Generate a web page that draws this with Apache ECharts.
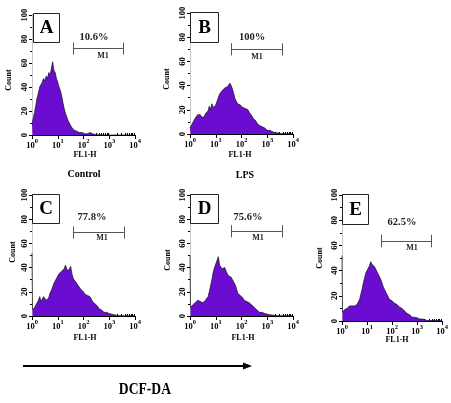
<!DOCTYPE html>
<html><head><meta charset="utf-8">
<script src="https://cdn.jsdelivr.net/npm/echarts@6/dist/echarts.min.js"></script>
<style>html,body{margin:0;padding:0;background:#fff}#c{width:451px;height:403px}</style>
</head><body><div id="c"></div>
<script>
// x positions in decades (log10 of FL1-H)
const logX = [0,0.02,
 0.05,0.10,0.15,0.20,0.25,0.30,0.35,0.40,0.45,0.50,0.55,0.60,0.65,0.70,0.75,0.80,0.85,0.90,0.95,1.00,
 1.05,1.10,1.15,1.20,1.25,1.30,1.35,1.40,1.45,1.50,1.55,1.60,1.65,1.70,1.75,1.80,1.85,1.90,1.95,2.00,
 2.05,2.10,2.15,2.20,2.25,2.30,2.35,2.40,2.45,2.50,2.55,2.60,2.65,2.70,2.75,2.80,2.85,2.90,2.95,3.00,
 3.05,3.10,3.15,3.20,3.25,3.30,3.35,3.40,3.45,3.50,3.55,3.60,3.65,3.70,3.75,3.80,3.85,3.90,3.95,4.00];

const histA = [9,10,
 14,19,25,31,35,40,42,44,47,45,49,47,52,50,55,61,54,52,47,44,
 40,37,33,27,22,18,15,12,10,8,6,5,4,4,3,3,2,3,2,2,
 1,2,1,1,2,2,1,1,0.5,0.5,0.3,0.5,0.3,0.3,0,0,0,0,0,0,
 0,0,0,0,0,0,0,0,0,0,0,0,0,0,0,0,0,0,0,0];
const histB = [5,6,
 7,9,11,13,14,16,15,16,14,15,14,17,16,19,23,20,25,22,21,24,
 27,30,33,34,36,37,38,37,39,40,42,40,37,33,29,27,25,26,24,24,
 22,21,21,20,20,18,17,15,13,12,11,9,9,7,6,6,5,5,4,3,
 3,3,2,2,2,1,1,1,0.5,0.5,0.5,0.3,0.5,0.3,0.3,0.3,0.3,0.3,0.3,0.3];
const histC = [52,5,
 6,7,9,11,13,16,12,14,16,17,13,12,15,19,21,24,27,29,31,33,
 35,36,37,38,39,42,39,37,38,41,35,31,30,28,27,25,24,22,21,20,
 18,17,17,16,16,14,12,11,10,9,8,6,5,5,4,3,3,3,2,2,
 2,1.5,1.3,1,0.8,0.5,0.5,0.3,0.3,0.3,0.2,0.2,0.2,0.2,0.2,0.2,0.2,0.2,0.2,0.2];
const histD = [50,7,
 8,9,10,11,12,13,13,12,12,11,12,13,14,16,20,25,30,36,40,43,
 46,49,42,41,39,38,40,37,35,33,33,32,30,29,26,23,19,18,17,16,
 15,13,12,12,11,11,10,9,8,7,6,5,4,3,3,3,2,2,2,1.5,
 1.3,1,0.8,0.8,0.5,0.5,0.3,0.3,0.3,0.3,0.3,0.3,0.3,0.3,0.3,0.3,0.3,0.3,0.3,0.3];
const histE = [52,7,
 8,9,9,10,11,12,13,12,11,12,12,13,15,17,21,25,30,34,38,40,
 42,44,47,45,44,43,41,39,37,35,33,30,27,25,23,21,19,17,16,16,
 15,14,13,13,12,11,10,10,9,8,7,6,5,5,4,3,3,3,3,2.5,
 2,1.6,1.6,1.5,1.6,1.2,0.6,0.4,0.3,0.3,0.3,0.3,0.3,0.3,0.3,0.3,0.3,0.3,0.3,0.3];

const panelLetters = ['A','B','C','D','E'];
const percents = ['10.6%','100%','77.8%','75.6%','62.5%'];
const gateStart = [1.59,1.59,1.59,1.59,1.57];
const gateEnd = [3.53,3.57,3.57,3.57,3.57];
const gateLevel = [72,70,69,70,63.5];
const xTickDecades = [0,1,2,3,4];
const groupLabels = ['Control','LPS'];
const markerName = 'M1';
const xName = 'FL1-H', yName = 'Count', dyeName = 'DCF-DA';

const hists = [histA,histB,histC,histD,histE];
const FONT = 'Liberation Serif';
const FILL = '#6a0dd0';

// layout (pixels)
const layout = [
 {left:32, top:15, width:103, height:120},
 {left:190, top:13, width:103, height:121},
 {left:32, top:195, width:103, height:121},
 {left:190, top:195, width:103, height:121},
 {left:342, top:195, width:102, height:126}
];
const minorX = [];
for (let d = 0; d < 4; d++) for (let k = 2; k <= 9; k++) minorX.push(d + Math.log10(k));

const grid = [], xAxis = [], yAxis = [], series = [];
layout.forEach((g, i) => {
  grid.push({left:g.left, top:g.top, width:g.width, height:g.height, containLabel:false});
  xAxis.push({
    type:'value', gridIndex:i, min:0, max:4, interval:1,
    axisLine:{show:true, lineStyle:{color:'#000', width:1}},
    axisTick:{show:true, length:4, lineStyle:{color:'#000'}},
    splitLine:{show:false},
    axisLabel:{
      margin:3, showMinLabel:true, showMaxLabel:true, hideOverlap:false,
      formatter: v => '{b|10}{s|' + v + '}',
      rich:{
        b:{fontFamily:FONT, fontSize:8.5, fontWeight:'bold', color:'#000', lineHeight:12, verticalAlign:'bottom'},
        s:{fontFamily:FONT, fontSize:6.5, fontWeight:'bold', color:'#000', lineHeight:6, verticalAlign:'top'}
      }
    }
  });
  xAxis.push({
    type:'value', gridIndex:i, min:0, max:4,
    axisLine:{show:false}, splitLine:{show:false}, axisLabel:{show:false},
    axisTick:{show:true, length:2, customValues:minorX, lineStyle:{color:'#000'}}
  });
  yAxis.push({
    type:'value', gridIndex:i, min:0, max:100, interval:20,
    axisLine:{show:true, lineStyle:{color:'#000', width:1}},
    axisTick:{show:true, length:3, lineStyle:{color:'#000'}},
    minorTick:{show:true, splitNumber:2, length:2, lineStyle:{color:'#000'}},
    splitLine:{show:false},
    axisLabel:{rotate:90, margin:3, fontFamily:FONT, fontSize:8.5, fontWeight:'bold', color:'#000'}
  });
  yAxis.push({
    type:'value', gridIndex:i, min:0, max:100, position:'right',
    axisLine:{show:true, lineStyle:{color:'#c8c8c8', width:1}},
    axisTick:{show:false}, axisLabel:{show:false}, splitLine:{show:false}
  });
  const s = gateStart[i], e = gateEnd[i], L = gateLevel[i];
  series.push({
    type:'line', xAxisIndex:2*i, yAxisIndex:2*i,
    data: logX.map((x, j) => [x, hists[i][j]]),
    symbol:'none', smooth:false,
    lineStyle:{color:'#111', width:0.7},
    areaStyle:{color:FILL, opacity:1},
    markLine:{
      silent:true, symbol:['none','none'], animation:false,
      lineStyle:{color:'#555', width:1, type:'solid'},
      label:{show:false},
      data:[
        [{coord:[s,L]},{coord:[e,L]}],
        [{coord:[s,L-5]},{coord:[s,L+5]}],
        [{coord:[e,L-5]},{coord:[e,L+5]}]
      ]
    }
  });
});

const graphic = [];
const boxes = [[33,13,26,29],[190,12,28,30],[32,194,27,29],[190,194,28,29],[342,194,26,30]];
boxes.forEach((b, i) => {
  graphic.push({type:'rect', shape:{x:b[0]+0.5, y:b[1]+0.5, width:b[2], height:b[3]},
    style:{fill:'#fff', stroke:'#222', lineWidth:1}, z:10});
  graphic.push({type:'text', x:b[0]+b[2]/2+0.5, y:b[1]+b[3]/2+1, z:11,
    style:{text:panelLetters[i], font:'bold 19px "' + FONT + '"', fill:'#000', align:'center', verticalAlign:'middle'}});
});
const pctPos = [[94,37],[252,37],[92,217],[248,217],[402,222]];
pctPos.forEach((p, i) => graphic.push({type:'text', x:p[0], y:p[1], z:11,
  style:{text:percents[i], font:'bold 10.5px "' + FONT + '"', fill:'#222', align:'center', verticalAlign:'middle'}}));
const m1Pos = [[103,56],[257,57],[102,238],[258,238],[412,248]];
m1Pos.forEach(p => graphic.push({type:'text', x:p[0], y:p[1], z:11,
  style:{text:markerName, font:'bold 8px "' + FONT + '"', fill:'#222', align:'center', verticalAlign:'middle'}}));
const countPos = [[9,80],[167,79],[13,252],[168,260],[320,258]];
countPos.forEach(p => graphic.push({type:'text', x:p[0], y:p[1], rotation:Math.PI/2, z:11,
  style:{text:yName, font:'bold 8px "' + FONT + '"', fill:'#000', align:'center', verticalAlign:'middle'}}));
const flPos = [[85,155],[240,155],[85,338],[243,338],[397,340]];
flPos.forEach(p => graphic.push({type:'text', x:p[0], y:p[1], z:11,
  style:{text:xName, font:'bold 8px "' + FONT + '"', fill:'#000', align:'center', verticalAlign:'middle'}}));
graphic.push({type:'text', x:84, y:174, style:{text:groupLabels[0], font:'bold 10px "' + FONT + '"', fill:'#000', align:'center', verticalAlign:'middle'}});
graphic.push({type:'text', x:245, y:175, style:{text:groupLabels[1], font:'bold 10px "' + FONT + '"', fill:'#000', align:'center', verticalAlign:'middle'}});
graphic.push({type:'line', shape:{x1:23, y1:366, x2:245, y2:366}, style:{stroke:'#000', lineWidth:2}});
graphic.push({type:'polygon', shape:{points:[[243,362.5],[252,366],[243,369.5]]}, style:{fill:'#000'}});
graphic.push({type:'text', x:126, y:390, scaleX:0.85, originX:126, originY:390,
  style:{text:dyeName, font:'bold 16px "' + FONT + '"', fill:'#000', align:'center', verticalAlign:'middle'}});

const chart = echarts.init(document.getElementById('c'), null, {renderer:'canvas'});
chart.setOption({animation:false, backgroundColor:'#fff', grid, xAxis, yAxis, series, graphic});
</script></body></html>
